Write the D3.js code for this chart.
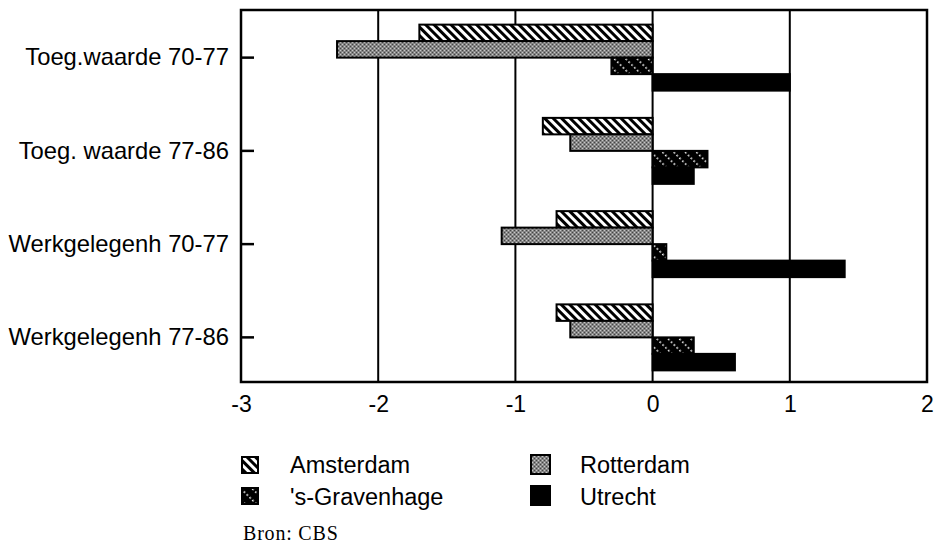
<!DOCTYPE html>
<html>
<head>
<meta charset="utf-8">
<script src="https://cdn.jsdelivr.net/npm/d3@7/dist/d3.min.js"></script>
<style>
  html, body { margin: 0; padding: 0; background: #fff; }
  svg { display: block; }
</style>
</head>
<body>
<svg id="chart" width="934" height="547"></svg>
<script>
const categories = ["Toeg.waarde 70-77", "Toeg. waarde 77-86", "Werkgelegenh 70-77", "Werkgelegenh 77-86"];
const seriesNames = ["Amsterdam", "Rotterdam", "'s-Gravenhage", "Utrecht"];
const amsterdam = [-1.7, -0.8, -0.7, -0.7];
const rotterdam = [-2.3, -0.6, -1.1, -0.6];
const gravenhage = [-0.3, 0.4, 0.1, 0.3];
const utrecht = [1.0, 0.3, 1.4, 0.6];
const xTicks = [-3, -2, -1, 0, 1, 2];
const sourceText = "Bron: CBS";

const seriesValues = [amsterdam, rotterdam, gravenhage, utrecht];
const fills = ["url(#pAms)", "url(#pRot)", "url(#pGra)", "#000"];

const svg = d3.select("#chart");
const font = "'Liberation Sans', Arial, Helvetica, sans-serif";

// patterns
const defs = svg.append("defs");
const pA = defs.append("pattern").attr("id", "pAms").attr("patternUnits", "userSpaceOnUse")
  .attr("width", 6).attr("height", 6).attr("patternTransform", "rotate(-45)");
pA.append("rect").attr("width", 6).attr("height", 6).attr("fill", "#fff");
pA.append("rect").attr("width", 3).attr("height", 6).attr("fill", "#000");

const pR = defs.append("pattern").attr("id", "pRot").attr("patternUnits", "userSpaceOnUse")
  .attr("width", 4).attr("height", 4);
pR.append("rect").attr("width", 4).attr("height", 4).attr("fill", "#858585");
pR.append("rect").attr("x", 0).attr("y", 0).attr("width", 1).attr("height", 1).attr("fill", "#444");
pR.append("rect").attr("x", 2).attr("y", 2).attr("width", 1).attr("height", 1).attr("fill", "#444");
pR.append("rect").attr("x", 2).attr("y", 0).attr("width", 1).attr("height", 1).attr("fill", "#c8c8c8");
pR.append("rect").attr("x", 0).attr("y", 2).attr("width", 1).attr("height", 1).attr("fill", "#c8c8c8");

const pG = defs.append("pattern").attr("id", "pGra").attr("patternUnits", "userSpaceOnUse")
  .attr("width", 8).attr("height", 8).attr("patternTransform", "rotate(-45)");
pG.append("rect").attr("width", 8).attr("height", 8).attr("fill", "#000");
pG.append("rect").attr("x", 0).attr("y", 0).attr("width", 1.6).attr("height", 1.6).attr("fill", "#fff");
pG.append("rect").attr("x", 0).attr("y", 4).attr("width", 1.6).attr("height", 1.6).attr("fill", "#fff");

// scales
const plot = { left: 241, right: 927, top: 10, bottom: 382 };
const x = d3.scaleLinear().domain([-3, 2]).range([plot.left, plot.right]);
const y = d3.scaleBand().domain(categories).range([11, 384]).padding(0);
const inner = d3.scaleBand().domain(seriesNames).range([0, 66]).padding(0);

// gridlines
svg.append("g").selectAll("line").data(xTicks.slice(1, -1)).join("line")
  .attr("x1", d => x(d)).attr("x2", d => x(d))
  .attr("y1", plot.top).attr("y2", plot.bottom)
  .attr("stroke", "#000").attr("stroke-width", 2);

// bars
const bars = [];
categories.forEach((c, ci) => {
  seriesNames.forEach((s, si) => {
    bars.push({ c, s, v: seriesValues[si][ci], fill: fills[si] });
  });
});
svg.append("g").selectAll("rect").data(bars).join("rect")
  .attr("x", d => x(Math.min(0, d.v)))
  .attr("width", d => Math.abs(x(d.v) - x(0)))
  .attr("y", d => y(d.c) + y.bandwidth() / 2 - 33 + inner(d.s))
  .attr("height", inner.bandwidth())
  .attr("fill", d => d.fill)
  .attr("stroke", "#000").attr("stroke-width", 2);

// frame
svg.append("rect").attr("x", plot.left).attr("y", plot.top)
  .attr("width", plot.right - plot.left).attr("height", plot.bottom - plot.top)
  .attr("fill", "none").attr("stroke", "#000").attr("stroke-width", 2.5);

// x axis
const xAxis = svg.append("g").attr("transform", `translate(0,${plot.bottom})`)
  .call(d3.axisBottom(x).tickValues(xTicks).tickSize(0).tickPadding(14).tickFormat(d3.format("d")));
xAxis.select(".domain").remove();
xAxis.selectAll("text").attr("font-family", font).attr("font-size", 23).attr("fill", "#000")
  .text(d => d < 0 ? "-" + Math.abs(d) : String(d));

// y axis
const yAxis = svg.append("g").attr("transform", `translate(${plot.left},0)`)
  .call(d3.axisLeft(y).tickSize(-13).tickPadding(12));
yAxis.select(".domain").remove();
yAxis.selectAll("line").attr("stroke", "#000").attr("stroke-width", 2.5);
yAxis.selectAll("text").attr("font-family", font).attr("font-size", 23.8).attr("fill", "#000");

// legend
const legendPos = [
  { sx: 242, sy: 457, size: 16, tx: 290, ty: 473 },
  { sx: 531, sy: 455, size: 19, tx: 580, ty: 473 },
  { sx: 242, sy: 488, size: 16, tx: 290, ty: 505 },
  { sx: 531, sy: 486, size: 19, tx: 580, ty: 505 }
];
const leg = svg.append("g").selectAll("g").data(seriesNames).join("g");
leg.append("rect")
  .attr("x", (d, i) => legendPos[i].sx).attr("y", (d, i) => legendPos[i].sy)
  .attr("width", (d, i) => legendPos[i].size).attr("height", (d, i) => legendPos[i].size)
  .attr("fill", (d, i) => fills[i]).attr("stroke", "#000").attr("stroke-width", 2);
leg.append("text")
  .attr("x", (d, i) => legendPos[i].tx).attr("y", (d, i) => legendPos[i].ty)
  .attr("font-family", font).attr("font-size", 23.5).attr("fill", "#000")
  .text(d => d);

svg.append("text").attr("x", 243).attr("y", 540)
  .attr("font-family", "'Liberation Serif', 'Times New Roman', serif").attr("font-size", 20)
  .attr("letter-spacing", 0.8)
  .attr("fill", "#000").text(sourceText);
</script>
</body>
</html>
